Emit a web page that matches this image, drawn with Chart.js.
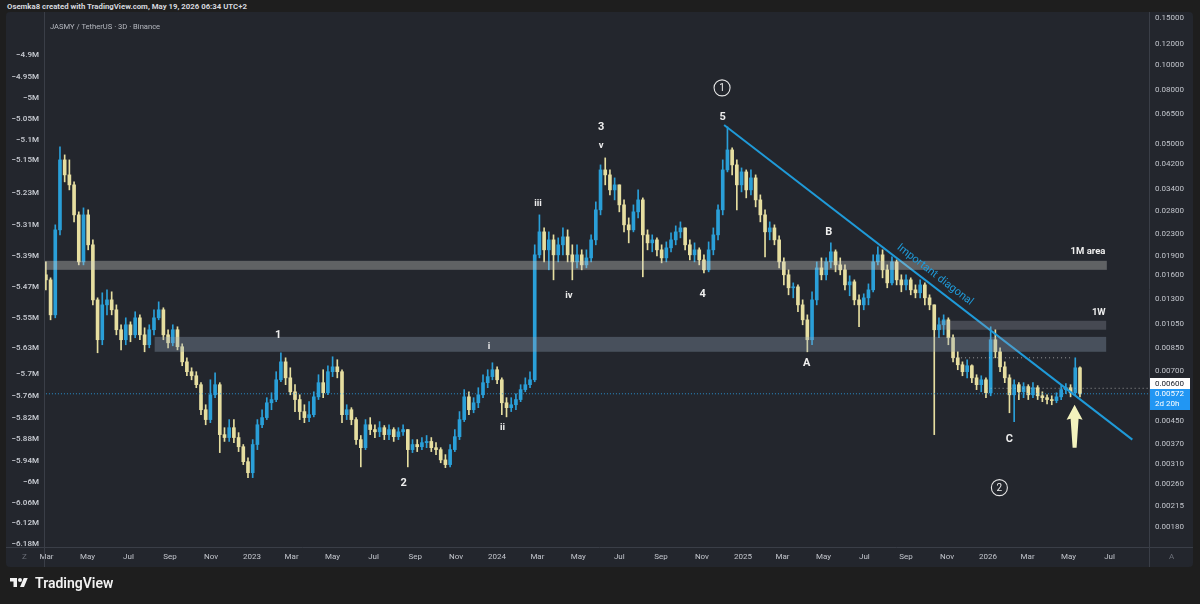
<!DOCTYPE html>
<html><head><meta charset="utf-8">
<script src="https://cdn.jsdelivr.net/npm/chart.js@4.4.1/dist/chart.umd.min.js"></script>
<style>
html,body{margin:0;padding:0;width:1200px;height:604px;overflow:hidden;background:#1e1e1e;font-family:Roboto,"Noto Sans",sans-serif;}
#panel{position:absolute;left:6px;top:12px;width:1187px;height:555px;background:#23262d;border-radius:4px;}
#c{position:absolute;left:0;top:0;}
#hdr{position:absolute;left:7px;top:2px;font-size:7.8px;font-weight:700;color:#d6d8de;white-space:nowrap;}
#sym{position:absolute;left:50px;top:22px;font-size:7.6px;color:#b6b9c0;white-space:nowrap;}
.corner{position:absolute;top:552px;font-size:8px;color:#6c7079;}
#logo{position:absolute;left:9px;top:575px;display:flex;align-items:center;color:#f2f2f2;font-size:14px;font-weight:600;}
#logo svg{margin-right:6px;}
</style></head>
<body>
<div id="hdr">Osemka8 created with TradingView.com, May 19, 2026 06:34 UTC+2</div>
<div id="panel"></div>
<canvas id="c" width="1200" height="604"></canvas>
<div id="sym">JASMY / TetherUS · 3D · Binance</div>
<div class="corner" style="left:22px">Z</div>
<div class="corner" style="left:1169px">A</div>
<div id="logo"><svg width="20" height="14" viewBox="0 0 36 28"><path d="M14 22H7V11H0V4h14v18zM28 22h-8l7.5-18h8L28 22z" fill="#f2f2f2"/><circle cx="20" cy="8" r="4" fill="#f2f2f2"/></svg><span>TradingView</span></div>
<script>
const candleStart = '2022-02-28';
const candleStepDays = 7;
const opens = [0.01609,0.01540,0.01136,0.02378,0.04369,0.03835,0.03516,0.02709,0.01800,0.02709,
0.02088,0.01294,0.00915,0.01239,0.01294,0.01187,0.00998,0.00915,0.01042,0.00955,
0.01107,0.00955,0.00876,0.00998,0.01107,0.01187,0.00955,0.00891,0.00998,0.00861,
0.00755,0.00693,0.00669,0.00619,0.00498,0.00457,0.00567,0.00619,0.00401,0.00391,
0.00426,0.00391,0.00361,0.00317,0.00288,0.00368,0.00437,0.00465,0.00529,0.00544,
0.00646,0.00755,0.00657,0.00582,0.00544,0.00490,0.00465,0.00477,0.00557,0.00630,
0.00577,0.00693,0.00723,0.00693,0.00477,0.00498,0.00457,0.00384,0.00358,0.00437,
0.00419,0.00411,0.00426,0.00401,0.00419,0.00394,0.00411,0.00419,0.00352,0.00368,
0.00361,0.00374,0.00378,0.00358,0.00352,0.00322,0.00309,0.00352,0.00394,0.00457,
0.00557,0.00498,0.00529,0.00567,0.00630,0.00664,0.00705,0.00646,0.00529,0.00507,
0.00520,0.00544,0.00593,0.00619,0.00646,0.01914,0.02337,0.01999,0.02180,0.01914,
0.02088,0.02238,0.01914,0.01800,0.01914,0.01754,0.01864,0.02180,0.02830,0.04005,
0.03835,0.03366,0.03516,0.02955,0.02484,0.02378,0.02781,0.03086,0.02277,0.02124,
0.02180,0.01999,0.01864,0.02034,0.02180,0.02337,0.02419,0.02088,0.01914,0.01999,
0.01832,0.01680,0.01999,0.02277,0.02830,0.04005,0.04765,0.04183,0.03516,0.03936,
0.03366,0.03736,0.03086,0.02709,0.02337,0.02419,0.02180,0.01800,0.01609,0.01437,
0.01449,0.01239,0.01088,0.00915,0.01294,0.01709,0.01609,0.01800,0.01965,0.01754,
0.01680,0.01474,0.01514,0.01294,0.01239,0.01317,0.01412,0.01800,0.01914,0.01680,
0.01500,0.01800,0.01540,0.01474,0.01540,0.01412,0.01376,0.01474,0.01317,0.01239,
0.00998,0.01042,0.01088,0.00931,0.00782,0.00736,0.00693,0.00730,0.00657,0.00619,
0.00646,0.00577,0.00915,0.00824,0.00723,0.00657,0.00567,0.00619,0.00582,0.00609,
0.00567,0.00603,0.00562,0.00553,0.00544,0.00539,0.00557,0.00593,0.00603,0.00577,
0.00717];
const highs = [0.01800,0.01567,0.02484,0.04890,0.04563,0.04369,0.03609,0.02781,0.02879,0.02830,
0.02180,0.01317,0.01376,0.01412,0.01388,0.01239,0.01042,0.01107,0.01069,0.01167,
0.01136,0.01015,0.01042,0.01187,0.01272,0.01208,0.00998,0.01042,0.01024,0.00883,
0.00782,0.00717,0.00693,0.00630,0.00520,0.00646,0.00687,0.00630,0.00426,0.00457,
0.00457,0.00408,0.00368,0.00328,0.00384,0.00457,0.00498,0.00553,0.00577,0.00693,
0.00817,0.00782,0.00717,0.00619,0.00567,0.00520,0.00534,0.00582,0.00675,0.00705,
0.00730,0.00789,0.00769,0.00705,0.00520,0.00507,0.00465,0.00398,0.00457,0.00465,
0.00437,0.00449,0.00434,0.00437,0.00426,0.00426,0.00437,0.00419,0.00384,0.00384,
0.00391,0.00398,0.00391,0.00374,0.00358,0.00337,0.00368,0.00419,0.00490,0.00593,
0.00582,0.00553,0.00603,0.00675,0.00705,0.00749,0.00723,0.00657,0.00553,0.00553,
0.00572,0.00619,0.00657,0.00693,0.02088,0.02709,0.02419,0.02337,0.02277,0.02218,
0.02419,0.02378,0.02088,0.02088,0.01999,0.01999,0.02277,0.03033,0.04183,0.04445,
0.04005,0.03736,0.03516,0.03086,0.02639,0.02955,0.03366,0.03140,0.02378,0.02277,
0.02218,0.02088,0.02142,0.02317,0.02462,0.02549,0.02419,0.02180,0.02124,0.02034,
0.01914,0.02142,0.02419,0.02955,0.04369,0.05819,0.04848,0.04369,0.04075,0.04005,
0.04005,0.03835,0.03223,0.02830,0.02549,0.02484,0.02257,0.01864,0.01680,0.01500,
0.01474,0.01294,0.01136,0.01388,0.01800,0.01864,0.01864,0.02124,0.01999,0.01864,
0.01754,0.01595,0.01540,0.01352,0.01364,0.01487,0.01914,0.02052,0.01999,0.01754,
0.01881,0.01832,0.01609,0.01609,0.01567,0.01474,0.01540,0.01500,0.01352,0.01239,
0.01107,0.01136,0.01107,0.00955,0.00824,0.00755,0.00769,0.00736,0.00675,0.00669,
0.00657,0.01024,0.00998,0.00853,0.00755,0.00675,0.00646,0.00630,0.00630,0.00619,
0.00630,0.00614,0.00582,0.00567,0.00562,0.00577,0.00614,0.00625,0.00619,0.00782,
0.00723];
const lows = [0.01412,0.01088,0.01107,0.02277,0.03609,0.03366,0.02549,0.01754,0.01754,0.01999,
0.01239,0.00817,0.00876,0.01136,0.01136,0.00955,0.00838,0.00876,0.00899,0.00931,
0.00915,0.00824,0.00853,0.00955,0.01088,0.00915,0.00853,0.00868,0.00838,0.00730,
0.00669,0.00646,0.00603,0.00477,0.00437,0.00445,0.00553,0.00343,0.00378,0.00378,
0.00374,0.00346,0.00309,0.00276,0.00276,0.00352,0.00426,0.00457,0.00498,0.00534,
0.00635,0.00619,0.00567,0.00490,0.00457,0.00445,0.00449,0.00468,0.00544,0.00553,
0.00567,0.00664,0.00657,0.00445,0.00457,0.00437,0.00368,0.00303,0.00352,0.00401,
0.00391,0.00394,0.00384,0.00384,0.00378,0.00384,0.00398,0.00303,0.00343,0.00346,
0.00352,0.00358,0.00346,0.00337,0.00314,0.00301,0.00303,0.00346,0.00384,0.00449,
0.00477,0.00485,0.00507,0.00553,0.00603,0.00646,0.00625,0.00477,0.00468,0.00490,
0.00498,0.00534,0.00582,0.00603,0.00635,0.01864,0.01800,0.01680,0.01540,0.01800,
0.01914,0.01800,0.01540,0.01709,0.01680,0.01709,0.01800,0.02088,0.02709,0.03516,
0.03223,0.03086,0.02781,0.02337,0.02124,0.02337,0.02639,0.01581,0.01999,0.01965,
0.01897,0.01785,0.01800,0.01965,0.02088,0.02218,0.01999,0.01832,0.01800,0.01754,
0.01637,0.01651,0.01914,0.02180,0.02709,0.03936,0.03835,0.02830,0.03308,0.03140,
0.03223,0.02904,0.02549,0.01881,0.02180,0.02088,0.01709,0.01474,0.01352,0.01317,
0.01167,0.01042,0.00824,0.00876,0.01239,0.01540,0.01540,0.01709,0.01651,0.01609,
0.01412,0.01341,0.01239,0.01024,0.01187,0.01239,0.01388,0.01754,0.01567,0.01437,
0.01474,0.01474,0.01388,0.01412,0.01352,0.01317,0.01317,0.01239,0.01187,0.00401,
0.00931,0.00955,0.00876,0.00755,0.00705,0.00669,0.00657,0.00630,0.00593,0.00582,
0.00553,0.00562,0.00782,0.00693,0.00630,0.00485,0.00449,0.00544,0.00553,0.00544,
0.00553,0.00544,0.00534,0.00524,0.00520,0.00529,0.00544,0.00572,0.00557,0.00567,
0.00557];
const closes = [0.01540,0.01136,0.02378,0.04369,0.03835,0.03516,0.02709,0.01800,0.02709,0.02088,
0.01294,0.00915,0.01239,0.01294,0.01187,0.00998,0.00915,0.01042,0.00955,0.01107,
0.00955,0.00876,0.00998,0.01107,0.01187,0.00955,0.00891,0.00998,0.00861,0.00755,
0.00693,0.00669,0.00619,0.00498,0.00457,0.00567,0.00619,0.00401,0.00391,0.00426,
0.00391,0.00361,0.00317,0.00288,0.00368,0.00437,0.00465,0.00529,0.00544,0.00646,
0.00755,0.00657,0.00582,0.00544,0.00490,0.00465,0.00477,0.00557,0.00630,0.00577,
0.00693,0.00723,0.00693,0.00477,0.00498,0.00457,0.00384,0.00358,0.00437,0.00419,
0.00411,0.00426,0.00401,0.00419,0.00394,0.00411,0.00419,0.00352,0.00368,0.00361,
0.00374,0.00378,0.00358,0.00352,0.00322,0.00309,0.00352,0.00394,0.00457,0.00557,
0.00498,0.00529,0.00567,0.00630,0.00664,0.00705,0.00646,0.00529,0.00507,0.00520,
0.00544,0.00593,0.00619,0.00646,0.01914,0.02337,0.01999,0.02180,0.01914,0.02088,
0.02238,0.01914,0.01800,0.01914,0.01754,0.01864,0.02180,0.02830,0.04005,0.03835,
0.03366,0.03516,0.02955,0.02484,0.02378,0.02781,0.03086,0.02277,0.02124,0.02180,
0.01999,0.01864,0.02034,0.02180,0.02337,0.02419,0.02088,0.01914,0.01999,0.01832,
0.01680,0.01999,0.02277,0.02830,0.04005,0.04765,0.04183,0.03516,0.03936,0.03366,
0.03736,0.03086,0.02709,0.02337,0.02419,0.02180,0.01800,0.01609,0.01437,0.01449,
0.01239,0.01088,0.00915,0.01294,0.01709,0.01609,0.01800,0.01965,0.01754,0.01680,
0.01474,0.01514,0.01294,0.01239,0.01317,0.01412,0.01800,0.01914,0.01680,0.01500,
0.01800,0.01540,0.01474,0.01540,0.01412,0.01376,0.01474,0.01317,0.01239,0.00998,
0.01042,0.01088,0.00931,0.00782,0.00736,0.00693,0.00730,0.00657,0.00619,0.00646,
0.00577,0.00915,0.00824,0.00723,0.00657,0.00567,0.00619,0.00582,0.00609,0.00567,
0.00603,0.00562,0.00553,0.00544,0.00539,0.00557,0.00593,0.00603,0.00577,0.00717,
0.00572];

// axis ticks
const priceTicks = [0.0018,0.00215,0.0026,0.0031,0.0037,0.0045,0.007,0.0085,0.0105,0.013,0.016,0.019,0.023,0.028,0.034,0.042,0.05,0.065,0.08,0.1,0.12,0.15];
const leftTicks = [4.9,4.95,5,5.05,5.1,5.15,5.23,5.31,5.39,5.47,5.55,5.63,5.7,5.76,5.82,5.88,5.94,6,6.06,6.12,6.18];
const timeTickDates = ['2022-03-01','2022-05-01','2022-07-01','2022-09-01','2022-11-01','2023-01-01','2023-03-01','2023-05-01','2023-07-01','2023-09-01','2023-11-01','2024-01-01','2024-03-01','2024-05-01','2024-07-01','2024-09-01','2024-11-01','2025-01-01','2025-03-01','2025-05-01','2025-07-01','2025-09-01','2025-11-01','2026-01-01','2026-03-01','2026-05-01','2026-07-01'];
const timeTickLabels = ['Mar','May','Jul','Sep','Nov','2023','Mar','May','Jul','Sep','Nov','2024','Mar','May','Jul','Sep','Nov','2025','Mar','May','Jul','Sep','Nov','2026','Mar','May','Jul'];

// drawings
const zoneNames = ['1M area','mid','1W'];
const zoneFrom = ['2022-01-01','2022-08-09','2025-10-21'];
const zoneTo = ['2026-06-27','2026-06-26','2026-06-26'];
const zoneLow = [0.0168,0.00824,0.00998];
const zoneHigh = [0.01817,0.00938,0.01079];
const diagDates = ['2024-12-04','2026-08-04'];
const diagPrices = [0.0592,0.00384];
const lastPrice = 0.00572;
const markPrice = 0.006;
const waveText = ['5','3','v','iii','iv','4','1','i','ii','2','A','B','C','1M area','1W'];
const waveDates = ['2024-12-02','2024-06-04','2024-06-04','2024-03-02','2024-04-17','2024-11-02','2023-02-09','2023-12-20','2024-01-09','2023-08-15','2025-04-06','2025-05-09','2026-02-02','2026-05-30','2026-06-15'];
const wavePrices = [0.0635,0.0582,0.0493,0.0298,0.0134,0.0136,0.00955,0.00861,0.00426,0.00262,0.00743,0.02337,0.00384,0.01965,0.01156];
const circledText = ['1','2'];
const circledDates = ['2024-12-01','2026-01-18'];
const circledPrices = [0.0817,0.00253];

// ---------- helpers ----------
const DAY0 = Date.parse('2022-01-01');
const day = s => (Date.parse(s) - DAY0) / 864e5;
const firstDay = day(candleStart);
const candleDays = closes.map((_, i) => firstDay + i * candleStepDays);
const UP = '#2a9fd8', DOWN = '#e6dea0';
const candleColors = closes.map((c, i) => c >= opens[i] ? UP : DOWN);
const tickLabelMap = new Map(timeTickDates.map((d, i) => [day(d), timeTickLabels[i]]));
const FONT = 'Roboto';
const AXIS_COL = '#c3c6cd';

const overlay = {
  id: 'overlay',
  afterDatasetsDraw(chart) {
    const {ctx, chartArea: a, scales: {x, y}} = chart;
    ctx.save();
    ctx.beginPath(); ctx.rect(a.left, a.top, a.right - a.left, a.bottom - a.top); ctx.clip();
    const zoneColors = ['rgba(205,205,200,0.36)', 'rgba(150,168,188,0.33)', 'rgba(160,165,178,0.28)'];
    zoneNames.forEach((n, i) => {
      const x1 = Math.max(a.left, x.getPixelForValue(day(zoneFrom[i])));
      const x2 = x.getPixelForValue(day(zoneTo[i]));
      const y1 = y.getPixelForValue(zoneHigh[i]), y2 = y.getPixelForValue(zoneLow[i]);
      ctx.fillStyle = zoneColors[i];
      ctx.fillRect(x1, y1, x2 - x1, y2 - y1);
    });
    // diagonal caption
    const px1 = x.getPixelForValue(day(diagDates[0])), py1 = y.getPixelForValue(diagPrices[0]);
    const px2 = x.getPixelForValue(day(diagDates[1])), py2 = y.getPixelForValue(diagPrices[1]);
    const ang = Math.atan2(py2 - py1, px2 - px1);
    const tx = x.getPixelForValue(day('2025-10-14')), ty = y.getPixelForValue(0.01609);
    ctx.translate(tx, ty); ctx.rotate(ang);
    ctx.fillStyle = '#1f9ad8'; ctx.font = `11px ${FONT}`; ctx.textAlign = 'center'; ctx.textBaseline = 'middle';
    ctx.fillText('Important diagonal', 0, 0);
    ctx.restore();
  },
  afterDraw(chart) {
    const {ctx, chartArea: a, scales: {x, y}} = chart;
    ctx.save();
    // pane separators
    ctx.strokeStyle = '#3a3e47'; ctx.lineWidth = 1;
    ctx.beginPath();
    ctx.moveTo(a.left - 0.5, 12); ctx.lineTo(a.left - 0.5, 567);
    ctx.moveTo(a.right + 0.5, 12); ctx.lineTo(a.right + 0.5, 567);
    ctx.moveTo(6, a.bottom + 0.5); ctx.lineTo(1193, a.bottom + 0.5);
    ctx.stroke();
    // wave labels
    ctx.fillStyle = '#eeeeee'; ctx.textAlign = 'center'; ctx.textBaseline = 'middle';
    waveText.forEach((t, i) => {
      const small = t.length > 2 || /^[iv]+$/.test(t) || t === '1W';
      ctx.font = small ? `bold 9.5px ${FONT}` : `bold 11px ${FONT}`;
      ctx.fillText(t, x.getPixelForValue(day(waveDates[i])), y.getPixelForValue(wavePrices[i]));
    });
    // circled labels
    circledText.forEach((t, i) => {
      const cx = x.getPixelForValue(day(circledDates[i])), cy = y.getPixelForValue(circledPrices[i]);
      ctx.beginPath(); ctx.arc(cx, cy, 8, 0, Math.PI * 2);
      ctx.strokeStyle = '#e6e6e6'; ctx.lineWidth = 1.1; ctx.stroke();
      ctx.font = `10px ${FONT}`; ctx.fillStyle = '#eeeeee';
      ctx.fillText(t, cx, cy + 0.5);
    });
    // arrow
    const ax = x.getPixelForValue(day('2026-05-10'));
    const tipY = y.getPixelForValue(0.0052), baseY = y.getPixelForValue(0.00358);
    ctx.beginPath();
    ctx.moveTo(ax, tipY); ctx.lineTo(ax + 8, tipY + 15); ctx.lineTo(ax + 4, tipY + 14);
    ctx.lineTo(ax + 2, baseY); ctx.lineTo(ax - 2, baseY); ctx.lineTo(ax - 4, tipY + 14);
    ctx.lineTo(ax - 8, tipY + 15); ctx.closePath();
    ctx.fillStyle = '#f3f2bd'; ctx.fill();
    // price labels on axis
    const ly = y.getPixelForValue(lastPrice);
    const bTop = Math.round(ly - 5);
    ctx.fillStyle = '#2196f3'; ctx.fillRect(a.right + 1, bTop, 40, 21);
    ctx.fillStyle = '#ffffff'; ctx.fillRect(a.right + 1, bTop - 11, 40, 11);
    ctx.font = `8px ${FONT}`; ctx.textAlign = 'left'; ctx.textBaseline = 'middle';
    ctx.fillStyle = '#131722'; ctx.fillText(markPrice.toFixed(5), a.right + 6, bTop - 5.5);
    ctx.fillStyle = '#ffffff'; ctx.fillText(lastPrice.toFixed(5), a.right + 6, bTop + 5);
    ctx.fillText('2d 20h', a.right + 6, bTop + 15);
    ctx.restore();
  }
};

const lineDs = (pts, color, dash, width) => ({
  type: 'line', data: pts, borderColor: color, borderWidth: width, borderDash: dash,
  pointRadius: 0, yAxisID: 'y', xAxisID: 'x', order: 0, tension: 0
});

new Chart(document.getElementById('c'), {
  type: 'bar',
  data: {
    datasets: [
      lineDs(diagDates.map((d, i) => ({x: day(d), y: diagPrices[i]})), '#1f9ad8', [], 2),
      lineDs([{x: 0, y: lastPrice}, {x: 1800, y: lastPrice}], 'rgba(41,160,230,0.85)', [1, 2], 1),
      lineDs([{x: day('2025-12-30'), y: markPrice}, {x: 1800, y: markPrice}], 'rgba(200,200,200,0.7)', [1, 3], 1),
      lineDs([{x: day('2025-11-10'), y: 0.00782}, {x: day('2026-05-07'), y: 0.00782}], 'rgba(200,200,200,0.7)', [1, 3], 1),
      {type: 'bar', data: candleDays.map((d, i) => ({x: d, y: [opens[i], closes[i]]})), backgroundColor: candleColors,
       barThickness: 3, minBarLength: 1, grouped: false, yAxisID: 'y', xAxisID: 'x', order: 1},
      {type: 'bar', data: candleDays.map((d, i) => ({x: d, y: [lows[i], highs[i]]})), backgroundColor: candleColors,
       barThickness: 1, grouped: false, yAxisID: 'y', xAxisID: 'x', order: 2}
    ]
  },
  options: {
    responsive: false, animation: false, devicePixelRatio: 1, events: [],
    layout: {autoPadding: false, padding: {left: 6, right: 7, top: 12, bottom: 37}},
    plugins: {legend: {display: false}, tooltip: {enabled: false}},
    scales: {
      x: {type: 'linear', position: 'bottom', min: 56.7, max: 1700.8, offset: false,
          grid: {display: false, drawTicks: false, offset: false}, border: {display: false},
          afterBuildTicks: s => { s.ticks = timeTickDates.map(d => ({value: day(d)})); },
          afterFit: s => { s.height = 20; },
          ticks: {autoSkip: false, maxRotation: 0, padding: 5, color: AXIS_COL, font: {family: FONT, size: 8},
                  callback: v => tickLabelMap.get(v) || ''}},
      y: {type: 'logarithmic', position: 'right', min: 0.00151, max: 0.158,
          grid: {display: false, drawTicks: false}, border: {display: false},
          afterBuildTicks: s => { s.ticks = priceTicks.map(v => ({value: v})); },
          afterFit: s => { s.width = 44; },
          ticks: {padding: 6, color: AXIS_COL, font: {family: FONT, size: 8}, callback: v => Number(v).toFixed(5)}},
      yl: {type: 'logarithmic', position: 'left', reverse: true, min: 4.806, max: 6.189,
           grid: {display: false, drawTicks: false}, border: {display: false},
           afterBuildTicks: s => { s.ticks = leftTicks.map(v => ({value: v})); },
           afterFit: s => { s.width = 39; },
           ticks: {padding: 6, color: AXIS_COL, font: {family: FONT, size: 8, weight: '600'}, callback: v => '−' + v + 'M'}}
    }
  },
  plugins: [overlay]
});
</script>
</body></html>
